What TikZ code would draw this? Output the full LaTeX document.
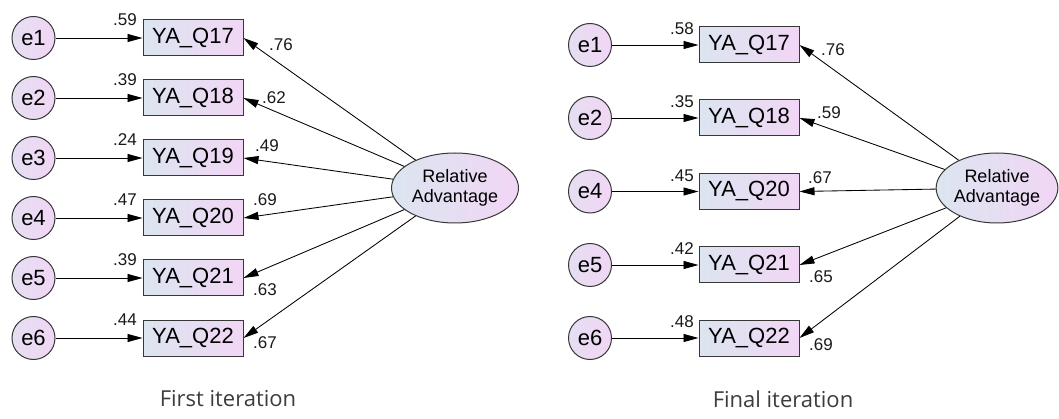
\documentclass[tikz,border=0pt]{standalone}
\usepackage{fontspec}
\setmainfont{Liberation Sans}
\newfontfamily\capfont{Open Sans}
\usetikzlibrary{arrows.meta,shapes.geometric}
\definecolor{fillL}{RGB}{220,229,240}
\definecolor{fillR}{RGB}{241,214,245}
\definecolor{edgecol}{RGB}{55,55,55}
\definecolor{capcol}{RGB}{60,60,60}
\begin{document}
\begin{tikzpicture}[x=1pt,y=-1pt,
  obs/.style={draw=edgecol, line width=1pt, left color=fillL, right color=fillR,
    minimum width=100pt, minimum height=36pt, inner sep=0pt,
    font=\fontsize{22}{24}\selectfont},
  err/.style={circle, draw=edgecol, line width=1pt, left color=fillL!55!fillR,
    right color=fillR, minimum size=43pt, inner sep=0pt,
    font=\fontsize{22}{22}\selectfont},
  lat/.style={ellipse, draw=edgecol, line width=1pt, left color=fillL, right color=fillR,
    minimum width=127pt, minimum height=70pt, inner sep=0pt, align=center,
    font=\fontsize{18}{20}\selectfont},
  pth/.style={-{Triangle[length=15pt,width=8pt]}, line width=0.85pt, black},
  num/.style={font=\fontsize{17}{18}\selectfont, inner sep=0pt, text=black!90},
  captext/.style={font=\capfont\fontsize{22}{26}\selectfont, text=capcol, inner sep=0pt}
]
\useasboundingbox (0,0) rectangle (1059,419);

% ---------- first iteration ----------
\node[lat] (ra) at (455,188) {Relative\\Advantage};
\foreach \e/\q/\y in {1/17/38, 2/18/98, 3/19/158, 4/20/218, 5/21/278, 6/22/338}{
  \node[err] (e\e) at (33.5,\y) {e\e};
  \node[obs] (q\q) at (193,\y) {YA\_Q\q};
  \draw[pth] (e\e) -- (q\q);
  \draw[pth] (ra) -- (q\q.east);
}
\foreach \v/\y in {.59/38, .39/98, .24/158, .47/218, .39/278, .44/338}{
  \node[num] (ev\y) at (125,\y-18) {\v};
}
\node[num] (l17) at (281,45) {.76};
\node[num] (l18) at (274,98) {.62};
\node[num] (l19) at (267,146) {.49};
\node[num] (l20) at (265,200) {.69};
\node[num] (l21) at (265,290) {.63};
\node[num] (l22) at (265,343) {.67};
\node[captext] (c1) at (228,399) {First iteration};

% ---------- final iteration ----------
\node[lat, minimum width=120pt] (rb) at (997,188) {Relative\\Advantage};
\foreach \e/\q/\y in {1/17/45, 2/18/118, 4/20/191.5, 5/21/265, 6/22/338}{
  \node[err] (f\e) at (590,\y) {e\e};
  \node[obs] (r\q) at (749,\y) {YA\_Q\q};
  \draw[pth] (f\e) -- (r\q);
  \draw[pth] (rb) -- (r\q.east);
}
\foreach \v/\y in {.58/45, .35/118, .45/191.5, .42/265, .48/338}{
  \node[num] (fv\y) at (682,\y-16) {\v};
}
\node[num] (m17) at (833,50) {.76};
\node[num] (m18) at (829,113) {.59};
\node[num] (m20) at (820,178) {.67};
\node[num] (m21) at (821,277) {.65};
\node[num] (m22) at (821,345) {.69};
\node[captext] (c2) at (783,399) {Final iteration};
\end{tikzpicture}
\end{document}
